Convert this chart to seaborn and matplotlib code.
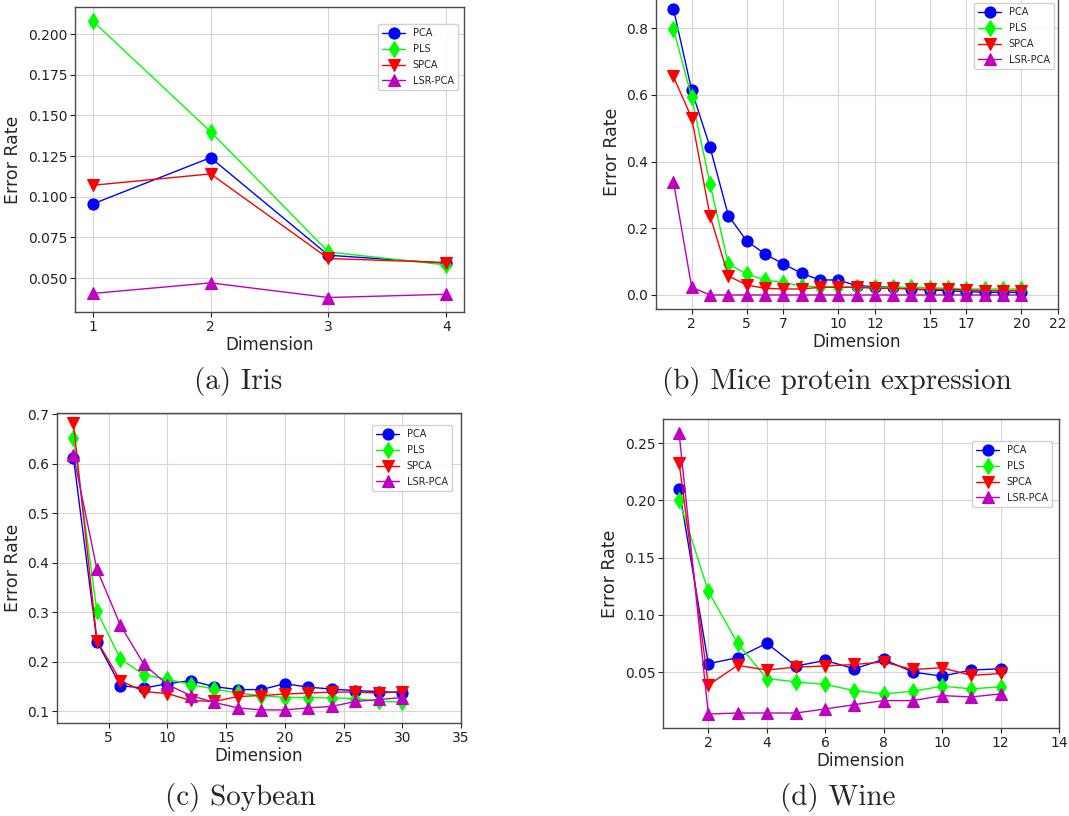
import numpy as np
import pandas as pd
import matplotlib
matplotlib.use("Agg")
import matplotlib.pyplot as plt
from matplotlib.ticker import MultipleLocator, FixedLocator
import seaborn as sns

# ---------------- data ----------------
methods = ["PCA", "PLS", "SPCA", "LSR-PCA"]

iris_dim = [1, 2, 3, 4]
iris_pca = [0.0955, 0.124, 0.064, 0.059]
iris_pls = [0.208, 0.140, 0.066, 0.058]
iris_spca = [0.107, 0.114, 0.062, 0.0595]
iris_lsr = [0.0405, 0.047, 0.038, 0.040]

mice_dim = list(range(1, 21))
mice_pca = [0.858, 0.613, 0.443, 0.238, 0.162, 0.123, 0.093, 0.065, 0.045, 0.045,
            0.028, 0.025, 0.023, 0.017, 0.015, 0.013, 0.010, 0.008, 0.008, 0.008]
mice_pls = [0.798, 0.592, 0.333, 0.093, 0.063, 0.045, 0.037, 0.027, 0.025, 0.025,
            0.023, 0.023, 0.023, 0.023, 0.022, 0.020, 0.018, 0.018, 0.018, 0.018]
mice_spca = [0.655, 0.530, 0.237, 0.057, 0.030, 0.020, 0.018, 0.018, 0.023, 0.023,
             0.023, 0.020, 0.020, 0.018, 0.017, 0.017, 0.015, 0.013, 0.013, 0.013]
mice_lsr = [0.340, 0.023, 0.0, 0.0, 0.0, 0.0, 0.0, 0.0, 0.0, 0.0,
            0.0, 0.0, 0.0, 0.0, 0.0, 0.0, 0.0, 0.0, 0.0, 0.0]
mice_xticks = [2, 5, 7, 10, 12, 15, 17, 20, 22]

soy_dim = list(range(2, 31, 2))
soy_pca = [0.613, 0.241, 0.152, 0.147, 0.156, 0.162, 0.150, 0.144, 0.144, 0.156,
           0.149, 0.145, 0.142, 0.140, 0.138]
soy_pls = [0.653, 0.302, 0.206, 0.174, 0.165, 0.154, 0.145, 0.137, 0.132, 0.128,
           0.128, 0.127, 0.126, 0.120, 0.119]
soy_spca = [0.682, 0.243, 0.162, 0.140, 0.136, 0.122, 0.120, 0.130, 0.132, 0.135,
            0.137, 0.139, 0.139, 0.137, 0.140]
soy_lsr = [0.618, 0.387, 0.274, 0.195, 0.154, 0.132, 0.118, 0.107, 0.103, 0.103,
           0.107, 0.110, 0.120, 0.124, 0.128]

wine_dim = list(range(1, 13))
wine_pca = [0.210, 0.0573, 0.0626, 0.0752, 0.0553, 0.0602, 0.0529, 0.0611, 0.0500,
            0.0465, 0.0518, 0.0529]
wine_pls = [0.2002, 0.1206, 0.0752, 0.0444, 0.0415, 0.0392, 0.0339, 0.0310, 0.0333,
            0.0377, 0.0354, 0.0371]
wine_spca = [0.233, 0.0386, 0.0559, 0.0518, 0.0544, 0.0553, 0.0567, 0.0588, 0.0523,
             0.0538, 0.0471, 0.0488]
wine_lsr = [0.2588, 0.0134, 0.0143, 0.0143, 0.0143, 0.0178, 0.0216, 0.0251, 0.0251,
            0.0295, 0.0283, 0.0310]

captions = ["(a) Iris", "(b) Mice protein expression", "(c) Soybean", "(d) Wine"]

# ---------------- style ----------------
sns.set_style("whitegrid", {
    "axes.edgecolor": "#4a4a4a",
    "grid.color": "#d6d6d6",
    "xtick.bottom": True,
    "ytick.left": True,
    "xtick.color": "#222222",
    "ytick.color": "#222222",
})
plt.rcParams["font.family"] = ["DejaVu Sans"]
plt.rcParams["xtick.major.size"] = 3.5
plt.rcParams["ytick.major.size"] = 3.5
plt.rcParams["axes.linewidth"] = 1.0

colors = {"PCA": "#0000ff", "PLS": "#00ff00", "SPCA": "#ff0000", "LSR-PCA": "#bf00bf"}
markers = {"PCA": "o", "PLS": "d", "SPCA": "v", "LSR-PCA": "^"}

W, H = 1069, 816
fig = plt.figure(figsize=(W / 100, H / 100), dpi=100)


def add_ax(left, right, top, bottom):
    return fig.add_axes([left / W, 1 - bottom / H, (right - left) / W, (bottom - top) / H])


def draw(ax, dims, series, leg_right, leg_top, ax_box):
    for name, vals in zip(methods, series):
        df = pd.DataFrame({"Dimension": dims, "Error Rate": vals})
        sns.lineplot(data=df, x="Dimension", y="Error Rate", ax=ax, color=colors[name],
                     marker=markers[name], markersize=8, markeredgecolor=colors[name],
                     markeredgewidth=0.8, linewidth=1.0, label=name, errorbar=None)
    ax.set_xlabel("Dimension", fontsize=12, labelpad=2)
    ax.set_ylabel("Error Rate", fontsize=12.5)
    ax.tick_params(labelsize=10, pad=2)
    l, r, t, b = ax_box
    ax.legend(loc="upper right",
              bbox_to_anchor=((leg_right - l) / (r - l), 1 - (leg_top - t) / (b - t)),
              borderaxespad=0, fontsize=7, frameon=True, framealpha=0.9,
              edgecolor="#cccccc", fancybox=True, borderpad=0.45, labelspacing=0.6,
              handlelength=2.3)
    ax.grid(True)


# (a) Iris
box_a = (75, 464, 7, 312)
ax_a = add_ax(*box_a)
draw(ax_a, iris_dim, [iris_pca, iris_pls, iris_spca, iris_lsr], 458, 24, box_a)
ax_a.set_xlim(0.85, 4.15)
ax_a.set_ylim(0.0291, 0.2166)
ax_a.xaxis.set_major_locator(FixedLocator(iris_dim))
ax_a.yaxis.set_major_locator(MultipleLocator(0.025))

# (b) Mice
box_b = (656, 1058, -6, 309)
ax_b = add_ax(*box_b)
draw(ax_b, mice_dim, [mice_pca, mice_pls, mice_spca, mice_lsr], 1054, 3, box_b)
ax_b.set_xlim(0.05, 22)
ax_b.set_ylim(-0.042, 0.902)
ax_b.xaxis.set_major_locator(FixedLocator(mice_xticks))
ax_b.yaxis.set_major_locator(MultipleLocator(0.2))

# (c) Soybean
box_c = (57, 461, 413, 723)
ax_c = add_ax(*box_c)
draw(ax_c, soy_dim, [soy_pca, soy_pls, soy_spca, soy_lsr], 452, 425, box_c)
ax_c.set_xlim(0.6, 35)
ax_c.set_ylim(0.0765, 0.703)
ax_c.xaxis.set_major_locator(MultipleLocator(5))
ax_c.yaxis.set_major_locator(MultipleLocator(0.1))

# (d) Wine
box_d = (663, 1059, 419, 728)
ax_d = add_ax(*box_d)
draw(ax_d, wine_dim, [wine_pca, wine_pls, wine_spca, wine_lsr], 1052, 441, box_d)
ax_d.set_xlim(0.45, 14)
ax_d.set_ylim(0.0012, 0.271)
ax_d.xaxis.set_major_locator(MultipleLocator(2))
ax_d.yaxis.set_major_locator(MultipleLocator(0.05))

# captions
cap_pos = [(238, 381), (837, 381), (240, 797), (838, 797)]
for txt, (cx, cy) in zip(captions, cap_pos):
    fig.text(cx / W, 1 - cy / H, txt, ha="center", va="center", fontsize=21,
             family=["cmr10", "DejaVu Serif"])

fig.savefig("out.png", dpi=100)
